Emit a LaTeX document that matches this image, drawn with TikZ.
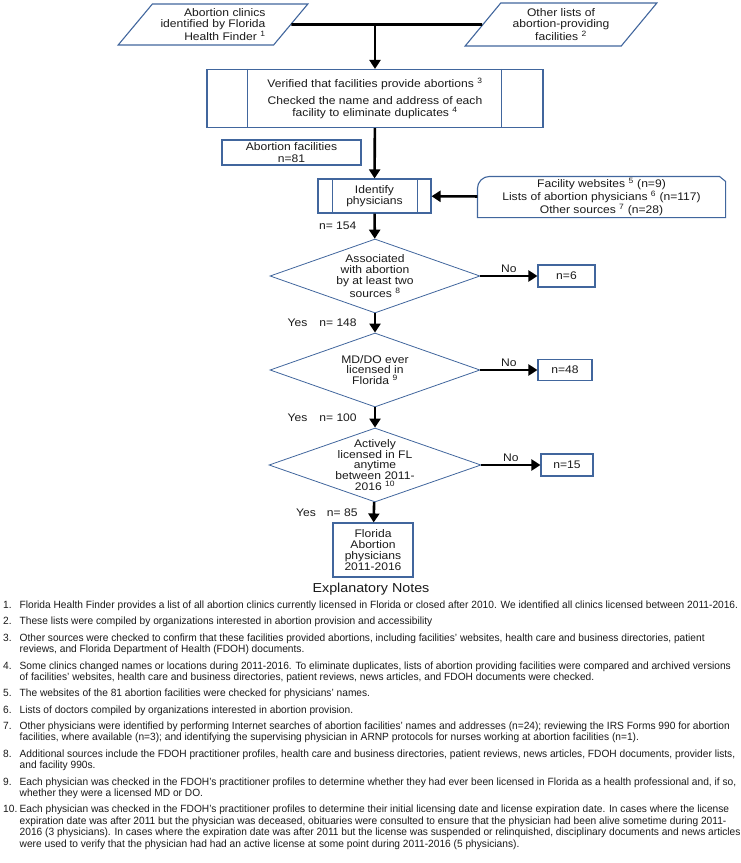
\documentclass[tikz,border=0pt]{standalone}
\usepackage{fontspec}
\setmainfont{Liberation Sans}[FakeStretch=1.1]
\newfontfamily\notefont{Liberation Sans}[FakeStretch=0.97]
\usetikzlibrary{
  arrows.meta,
  shapes.geometric,
  positioning,
  calc
}
\definecolor{fcBlue}{HTML}{41669D}
\definecolor{fcText}{HTML}{1A1A1A}
\newcommand{\fcfont}{\fontsize{11}{10.9}\selectfont}
\newcommand{\notenum}[1]{\makebox[16.5pt][l]{#1}}
\newcommand{\noteind}{\hspace*{16.5pt}}
\tikzset{
  fcnode/.style={
    draw=fcBlue, line width=1.1pt, font=\fcfont, align=center,
    inner sep=1pt, text=fcText
  },
  fcbox/.style={fcnode, rectangle},
  srcbox/.style={
    fcnode, trapezium, trapezium stretches=true,
    trapezium left angle=48, trapezium right angle=132
  },
  decision/.style={
    diamond, draw=fcBlue, line width=0.8pt,
    minimum width=210pt, minimum height=74pt, inner sep=0pt
  },
  dtext/.style={font=\fcfont, align=center, inner sep=0pt, text=fcText},
  outbox/.style={fcbox, minimum width=55pt, minimum height=22pt},
  flow/.style={-{Triangle[length=9pt, width=11pt]}, line width=2.6pt},
  joinline/.style={line width=2.6pt},
  procline/.style={draw=fcBlue, line width=1.1pt},
  cnt/.style={font=\fcfont, inner sep=1pt, text=fcText},
  notes/.style={
    font=\notefont\fontsize{10.5}{11.5}\selectfont, align=left,
    inner sep=0pt, anchor=north west, text=fcText
  }
}

\begin{document}
\begin{tikzpicture}[x=1pt, y=-1pt]
  \useasboundingbox (0,0) rectangle (741,863);

  % sources of facilities
  \node[srcbox, align=right, minimum width=190pt, minimum height=41pt,
        trapezium left angle=48, trapezium right angle=132] (fhf) at (213,24.5)
    {Abortion clinics\\identified by Florida\\Health Finder \textsuperscript{1}};
  \node[srcbox, minimum width=192pt, minimum height=43pt,
        trapezium left angle=49, trapezium right angle=131] (olist) at (561,24.5)
    {Other lists of\\abortion-providing\\facilities \textsuperscript{2}};
  \coordinate (join) at (375,24.5);

  \node[fcbox, minimum width=336pt, minimum height=58pt] (vfy) at (375,98.5)
    {Verified that facilities provide abortions \textsuperscript{3}\\[6.5pt]
     Checked the name and address of each\\[0.8pt]
     facility to eliminate duplicates \textsuperscript{4}};
  \draw[procline] ([xshift=41pt]vfy.north west) -- ([xshift=41pt]vfy.south west);
  \draw[procline] ([xshift=-42pt]vfy.north east) -- ([xshift=-42pt]vfy.south east);

  \node[fcbox, minimum width=139pt, minimum height=25pt] (fac) at (291.5,152.5)
    {Abortion facilities\\[1pt]n=81};

  % physicians
  \node[fcbox, minimum width=113pt, minimum height=34pt] (idp) at (374.5,196)
    {Identify\\physicians};
  \draw[procline] ([xshift=15pt]idp.north west) -- ([xshift=15pt]idp.south west);
  \draw[procline] ([xshift=-14pt]idp.north east) -- ([xshift=-14pt]idp.south east);

  \node[fcnode, draw=none, minimum width=247pt, minimum height=40pt] (srcs) at (601.5,197)
    {Facility websites \textsuperscript{5} (n=9)\\
     Lists of abortion physicians \textsuperscript{6} (n=117)\\
     Other sources \textsuperscript{7} (n=28)};
  \draw[procline] (srcs.south west) -- ([yshift=-12pt]srcs.north west)
    arc[start angle=180, end angle=90, radius=12pt]
    -- ([xshift=-6pt]srcs.north east) -- ([yshift=-5pt]srcs.north east)
    -- (srcs.south east) -- cycle;

  % checks
  \node[decision, label={[dtext]center:{Associated\\with abortion\\by at least two\\sources \textsuperscript{8}}}] (d1) at (375,276) {};
  \node[outbox, minimum width=57pt] (n6) at (566.5,276) {n=6};

  \node[decision, label={[dtext]center:{MD/DO ever\\licensed in\\Florida \textsuperscript{9}}}] (d2) at (375,370) {};
  \node[outbox, minimum width=54pt, minimum height=21pt] (n48) at (565,370) {n=48};

  \node[decision, minimum width=212pt, label={[dtext]center:{Actively\\licensed in FL\\anytime\\between 2011-\\2016 \textsuperscript{10}}}] (d3) at (375,465) {};
  \node[outbox, minimum width=52pt] (n15) at (567,465) {n=15};

  \node[fcbox, minimum width=80pt, minimum height=54pt] (fin) at (373,550)
    {Florida\\Abortion\\physicians\\2011-2016};

  % connectors
  \draw[joinline] (fhf.east) -- (olist.west);
  \draw[flow] (join) -- (vfy);
  \draw[flow] (vfy) -- (idp);
  \draw[flow] (srcs) -- (idp);
  \draw[flow] (idp) -- node[cnt, left=16pt] {n= 154} (d1);
  \draw[flow] (d1) -- node[cnt, left=16pt] {Yes\hspace{12pt}n= 148} (d2);
  \draw[flow] (d2) -- node[cnt, left=16pt] {Yes\hspace{12pt}n= 100} (d3);
  \draw[flow] (d3) -- node[cnt, left=14pt] {Yes\hspace{11pt}n= 85} (fin);
  \draw[flow] (d1.east) -- node[cnt, above=1pt] {No} (n6);
  \draw[flow] (d2.east) -- node[cnt, above=1pt] {No} (n48);
  \draw[flow] (d3.east) -- node[cnt, above=1pt] {No} (n15);

  % explanatory notes
  \node[font=\fontsize{13}{15}\selectfont, text=fcText] (title) at (371,589) {Explanatory Notes};
  \node[notes] (expl) at (3,600.8) {%
    \notenum{1.}Florida Health Finder provides a list of all abortion clinics currently licensed in Florida or closed after 2010. We identified all clinics licensed between 2011-2016.\\[4.8pt]
    \notenum{2.}These lists were compiled by organizations interested in abortion provision and accessibility\\[4.8pt]
    \notenum{3.}Other sources were checked to confirm that these facilities provided abortions, including facilities’ websites, health care and business directories, patient\\
    \noteind reviews, and Florida Department of Health (FDOH) documents.\\[4.8pt]
    \notenum{4.}Some clinics changed names or locations during 2011-2016. To eliminate duplicates, lists of abortion providing facilities were compared and archived versions\\
    \noteind of facilities’ websites, health care and business directories, patient reviews, news articles, and FDOH documents were checked.\\[4.8pt]
    \notenum{5.}The websites of the 81 abortion facilities were checked for physicians’ names.\\[4.8pt]
    \notenum{6.}Lists of doctors compiled by organizations interested in abortion provision.\\[4.8pt]
    \notenum{7.}Other physicians were identified by performing Internet searches of abortion facilities’ names and addresses (n=24); reviewing the IRS Forms 990 for abortion\\
    \noteind facilities, where available (n=3); and identifying the supervising physician in ARNP protocols for nurses working at abortion facilities (n=1).\\[4.8pt]
    \notenum{8.}Additional sources include the FDOH practitioner profiles, health care and business directories, patient reviews, news articles, FDOH documents, provider lists,\\
    \noteind and facility 990s.\\[4.8pt]
    \notenum{9.}Each physician was checked in the FDOH’s practitioner profiles to determine whether they had ever been licensed in Florida as a health professional and, if so,\\
    \noteind whether they were a licensed MD or DO.\\[4.8pt]
    \notenum{10.}Each physician was checked in the FDOH’s practitioner profiles to determine their initial licensing date and license expiration date. In cases where the license\\
    \noteind expiration date was after 2011 but the physician was deceased, obituaries were consulted to ensure that the physician had been alive sometime during 2011-\\
    \noteind 2016 (3 physicians). In cases where the expiration date was after 2011 but the license was suspended or relinquished, disciplinary documents and news articles\\
    \noteind were used to verify that the physician had had an active license at some point during 2011-2016 (5 physicians).};
\end{tikzpicture}
\end{document}
